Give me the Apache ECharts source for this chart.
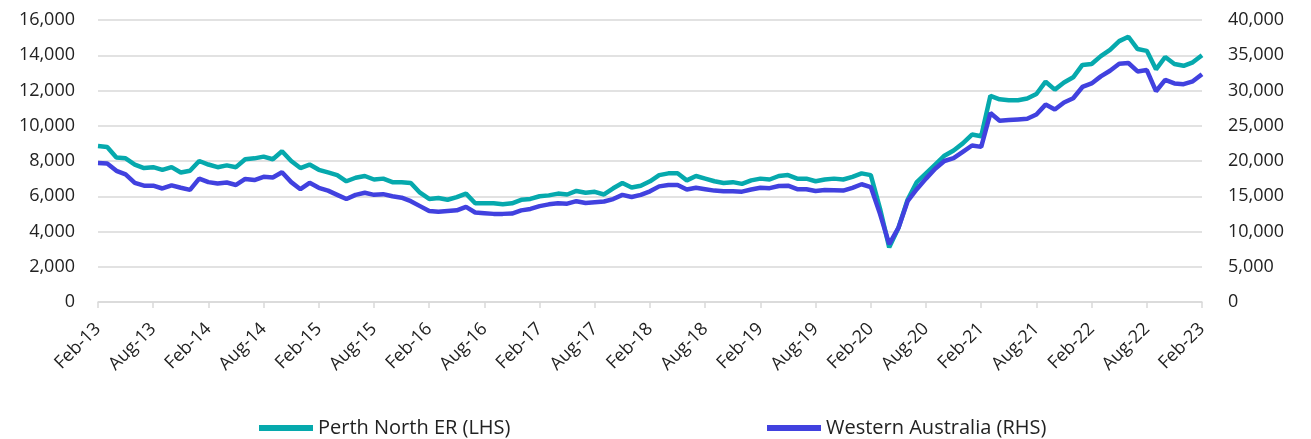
<!DOCTYPE html>
<html>
<head>
<meta charset="utf-8">
<script src="https://cdn.jsdelivr.net/npm/echarts@6/dist/echarts.min.js"></script>
<style>
html,body{margin:0;padding:0;background:#fff;}
#chart{width:1311px;height:439px;}
</style>
</head>
<body>
<div id="chart"></div>
<script>
// Monthly categories Feb-13 .. Feb-23
var monthNames = ['Jan','Feb','Mar','Apr','May','Jun','Jul','Aug','Sep','Oct','Nov','Dec'];
var categories = [];
for (var k = 0; k <= 120; k++) {
  var m = (1 + k) % 12;
  var y = 13 + Math.floor((1 + k) / 12);
  categories.push(monthNames[m] + '-' + y);
}

var perthNorth = [
  8850, 8800, 8200, 8150, 7800, 7600, 7650, 7500, 7650, 7350, 7450, 8000,
  7800, 7650, 7750, 7650, 8100, 8150, 8250, 8100, 8550, 8000, 7600, 7800,
  7500, 7350, 7200, 6850, 7050, 7150, 6950, 7000, 6800, 6800, 6750, 6200,
  5850, 5900, 5800, 5950, 6150, 5600, 5600, 5600, 5550, 5600, 5800, 5850,
  6000, 6050, 6150, 6100, 6300, 6200, 6250, 6100, 6450, 6750, 6500, 6600,
  6850, 7200, 7300, 7300, 6900, 7150, 7000, 6850, 6750, 6800, 6700, 6900,
  7000, 6950, 7150, 7200, 7000, 7000, 6850, 6950, 7000, 6950, 7100, 7300,
  7200, 5300, 3100, 4200, 5800, 6800, 7300, 7800, 8300, 8600, 9000, 9500,
  9400, 11700, 11500, 11450, 11450, 11550, 11800, 12500, 12050, 12450, 12750, 13450,
  13500, 13950, 14300, 14800, 15050, 14350, 14250, 13200, 13900, 13500, 13400, 13600,
  14000
];

var westernAustralia = [
  19700, 19650, 18600, 18100, 16900, 16500, 16500, 16100, 16550, 16200, 15900, 17500,
  17000, 16800, 16950, 16600, 17450, 17300, 17750, 17650, 18400, 17000, 16000, 16900,
  16200, 15800, 15200, 14600, 15200, 15500, 15200, 15300, 15000, 14800, 14300, 13600,
  12900, 12800, 12900, 13000, 13500, 12700, 12600, 12500, 12500, 12550, 13000, 13200,
  13600, 13850, 14000, 13950, 14300, 14050, 14150, 14250, 14600, 15200, 14900, 15200,
  15700, 16400, 16600, 16600, 15950, 16200, 16000, 15800, 15700, 15700, 15650, 15950,
  16200, 16150, 16450, 16500, 16000, 16000, 15750, 15900, 15850, 15800, 16200, 16700,
  16300, 12500, 8200, 10500, 14300, 16000, 17500, 18900, 20000, 20400, 21300, 22200,
  22000, 26800, 25700, 25800, 25900, 26000, 26600, 28000, 27300, 28300, 28900, 30500,
  31000, 32000, 32800, 33800, 33900, 32700, 32900, 29900, 31500, 31000, 30900, 31300,
  32300
];

var fontFam = '"Open Sans", "Noto Sans", sans-serif';
function fmt(v){ return String(v).replace(/\B(?=(\d{3})+(?!\d))/g, ','); }

var legendText = { fontFamily: fontFam, fontSize: 20, color: '#222' };

var chart = echarts.init(document.getElementById('chart'));
chart.setOption({
  animation: false,
  backgroundColor: '#ffffff',
  grid: { left: 98, right: 109, top: 20, bottom: 137, containLabel: false },
  legend: [
    {
      top: 413, left: 254,
      itemWidth: 54, itemHeight: 6, itemGap: 4,
      icon: 'rect',
      textStyle: legendText,
      data: ['Perth North ER (LHS)']
    },
    {
      top: 413, left: 762,
      itemWidth: 54, itemHeight: 6, itemGap: 4,
      icon: 'rect',
      textStyle: legendText,
      data: ['Western Australia (RHS)']
    }
  ],
  xAxis: {
    type: 'category',
    data: categories,
    boundaryGap: false,
    axisLine: { lineStyle: { color: '#d9d9d9', width: 1.5 } },
    axisTick: { show: true, interval: 5, length: 6, lineStyle: { color: '#d9d9d9', width: 1.5 } },
    axisLabel: {
      interval: 5,
      rotate: 45,
      margin: 24,
      fontFamily: fontFam,
      fontSize: 18,
      color: '#222'
    },
    splitLine: { show: false }
  },
  yAxis: [
    {
      type: 'value',
      min: 0, max: 16000, interval: 2000,
      axisLine: { show: false },
      axisTick: { show: false },
      axisLabel: { formatter: fmt, fontFamily: fontFam, fontSize: 18, color: '#222', margin: 23 },
      splitLine: { lineStyle: { color: '#d9d9d9', width: 1.5 } }
    },
    {
      type: 'value',
      min: 0, max: 40000, interval: 5000,
      position: 'right',
      axisLine: { show: false },
      axisTick: { show: false },
      axisLabel: { formatter: fmt, fontFamily: fontFam, fontSize: 18, color: '#222', margin: 26 },
      splitLine: { show: false }
    }
  ],
  series: [
    {
      name: 'Perth North ER (LHS)',
      type: 'line',
      yAxisIndex: 0,
      data: perthNorth,
      showSymbol: false,
      symbol: 'none',
      lineStyle: { color: '#06A9AD', width: 4.5 },
      itemStyle: { color: '#06A9AD' },
      z: 2
    },
    {
      name: 'Western Australia (RHS)',
      type: 'line',
      yAxisIndex: 1,
      data: westernAustralia,
      showSymbol: false,
      symbol: 'none',
      lineStyle: { color: '#4141DF', width: 4.5 },
      itemStyle: { color: '#4141DF' },
      z: 3
    }
  ]
});
</script>
</body>
</html>
